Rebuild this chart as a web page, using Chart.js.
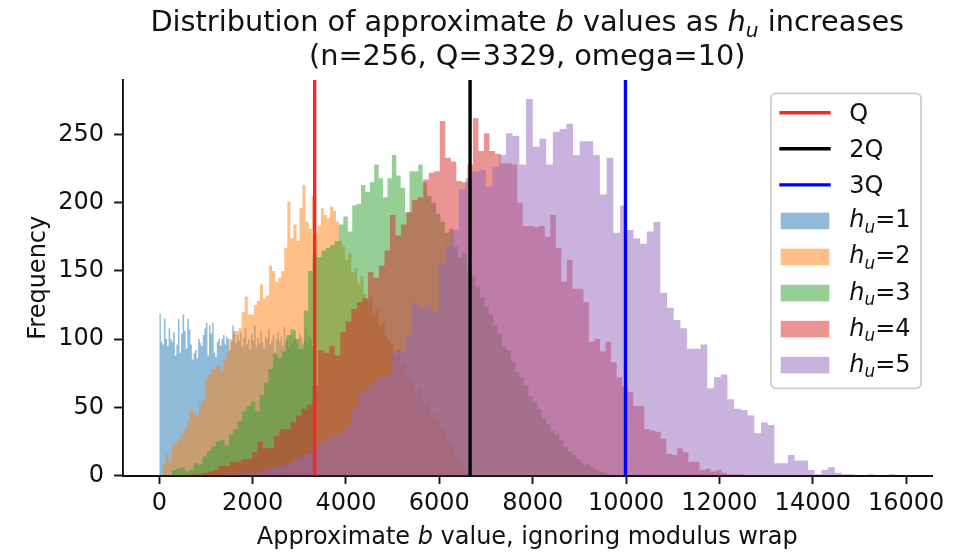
<!DOCTYPE html>
<html>
<head>
<meta charset="utf-8">
<title>Distribution of approximate b values</title>
<script src="https://cdn.jsdelivr.net/npm/chart.js@4.4.1/dist/chart.umd.min.js"></script>
<style>
  html, body { margin: 0; padding: 0; background: #fff; }
  canvas { display: block; }
</style>
</head>
<body>
<canvas id="histChart" width="960" height="553"></canvas>
<script>
const Q = 3329;
const refLines = [Q, 2 * Q, 3 * Q];
const refLabels = ['Q', '2Q', '3Q'];

const huLabels = ['1', '2', '3', '4', '5'];
// first and last bin edge of each histogram, 100 equal bins in between
const binStart = [0, 70, 265, 681, 1386];
const binEnd = [3329, 6590, 9700, 12521, 15766];

const hu1 = [
  119, 98, 96, 115, 100, 95, 108, 100, 98, 105,
  88, 96, 115, 90, 104, 118, 106, 93, 115, 107,
  96, 85, 90, 92, 86, 100, 97, 95, 103, 108,
  112, 88, 110, 104, 112, 90, 87, 98, 100, 95,
  100, 103, 96, 102, 100, 92, 98, 110, 106, 97,
  103, 99, 105, 94, 101, 108, 96, 100, 92, 104,
  99, 110, 95, 101, 97, 106, 98, 93, 102, 100,
  107, 96, 99, 103, 91, 100, 105, 98, 102, 95,
  109, 99, 101, 94, 103, 97, 100, 106, 98, 92,
  104, 101, 96, 99, 108, 97, 103, 100, 95, 102
];
const hu2 = [
  8, 16, 10, 22, 24, 27, 30, 34, 39, 48,
  46, 44, 52, 55, 70, 74, 78, 80, 81, 76,
  85, 90, 100, 104, 106, 108, 120, 131, 118, 118,
  125, 128, 140, 130, 132, 154, 150, 142, 145, 150,
  167, 201, 174, 184, 172, 196, 213, 186, 181, 205,
  178, 183, 196, 191, 189, 197, 194, 186, 172, 168,
  158, 163, 149, 152, 140, 146, 133, 128, 131, 118,
  121, 110, 112, 103, 99, 96, 88, 92, 80, 83,
  76, 71, 68, 62, 65, 56, 52, 55, 44, 46,
  40, 35, 33, 27, 24, 21, 16, 12, 9, 5
];
const hu3 = [
  4, 5, 6, 3, 4, 9, 8, 14, 18, 21,
  25, 26, 22, 30, 34, 40, 47, 51, 54, 47,
  59, 68, 78, 89, 86, 91, 103, 107, 100, 93,
  121, 150, 162, 160, 165, 167, 169, 172, 184, 190,
  179, 198, 199, 213, 208, 215, 228, 218, 204, 218,
  235, 220, 211, 193, 223, 223, 228, 215, 205, 200,
  192, 186, 178, 181, 168, 160, 163, 150, 146, 138,
  131, 124, 118, 110, 104, 95, 92, 84, 76, 72,
  66, 58, 54, 49, 42, 38, 33, 30, 26, 21,
  18, 15, 12, 9, 8, 6, 4, 3, 2, 1
];
const hu4 = [
  1, 1, 2, 3, 4, 7, 7, 10, 10, 12,
  12, 17, 25, 20, 20, 29, 34, 34, 39, 44,
  49, 52, 66, 92, 90, 95, 88, 105, 113, 122,
  127, 130, 149, 145, 154, 165, 191, 176, 184, 193,
  202, 204, 217, 222, 223, 260, 233, 230, 216, 215,
  228, 262, 238, 251, 238, 236, 229, 229, 228, 200,
  183, 183, 182, 183, 175, 191, 167, 142, 158, 137,
  137, 127, 98, 100, 91, 98, 83, 72, 65, 61,
  51, 51, 34, 33, 32, 27, 16, 15, 20, 17,
  10, 10, 4, 5, 3, 4, 2, 1, 1, 1
];
const hu5 = [
  1, 1, 1, 2, 2, 3, 5, 6, 7, 9,
  12, 14, 16, 21, 24, 28, 30, 31, 37, 49,
  61, 66, 69, 72, 74, 91, 91, 103, 127, 123,
  125, 120, 156, 169, 180, 210, 218, 223, 224, 212,
  226, 235, 251, 249, 228, 276, 241, 247, 228, 252,
  254, 258, 235, 245, 245, 235, 206, 233, 178, 198,
  180, 174, 170, 179, 186, 134, 123, 114, 108, 93,
  93, 96, 64, 72, 74, 56, 49, 48, 44, 31,
  39, 37, 9, 9, 15, 11, 11, 4, 1, 4,
  6, 2, 1, 1, 0, 0, 1, 0, 0, 1
];

const xTicks = [0, 2000, 4000, 6000, 8000, 10000, 12000, 14000, 16000];
const yTicks = [0, 50, 100, 150, 200, 250];
const xLimits = [-788, 16554];
const yLimits = [0, 290];

const FONT = '"DejaVu Sans", sans-serif';
const TEXT = '#111';
const lineColors = ['#ee2c26', '#000000', '#0000ff'];
const fillColors = [
  'rgba(31,119,180,0.5)', 'rgba(255,127,14,0.5)', 'rgba(44,160,44,0.5)',
  'rgba(214,39,40,0.5)', 'rgba(148,103,189,0.5)'
];

// turn counts into step points: one per left edge plus the closing right edge
function histPoints(counts, lo, hi) {
  const w = (hi - lo) / counts.length;
  const pts = counts.map((c, i) => ({ x: lo + i * w, y: c }));
  pts.push({ x: hi, y: counts[counts.length - 1] });
  return pts;
}

// text made of plain, italic ('i') and italic subscript ('sub') pieces
function drawRich(ctx, parts, size, x, y, align) {
  const pieces = parts.map(([t, s]) => {
    const fs = s === 'sub' ? size * 0.7 : size;
    const font = (s ? 'italic ' : '') + fs + 'px ' + FONT;
    ctx.font = font;
    return { t, font, w: ctx.measureText(t).width, dy: s === 'sub' ? size * 0.22 : 0 };
  });
  const total = pieces.reduce((a, p) => a + p.w, 0);
  let cx = align === 'center' ? x - total / 2 : x;
  ctx.textAlign = 'left';
  ctx.textBaseline = 'alphabetic';
  pieces.forEach(p => {
    ctx.font = p.font;
    ctx.fillText(p.t, cx, y + p.dy);
    cx += p.w;
  });
}

const huSeries = [hu1, hu2, hu3, hu4, hu5];
const datasets = [];

refLines.forEach((q, k) => {
  datasets.push({
    label: refLabels[k],
    data: [{ x: q, y: yLimits[0] }, { x: q, y: yLimits[1] }],
    borderColor: lineColors[k],
    borderWidth: 3.4,
    pointRadius: 0,
    fill: false,
    order: 0
  });
});

huSeries.forEach((counts, k) => {
  datasets.push({
    label: 'h_u=' + huLabels[k],
    data: histPoints(counts, binStart[k], binEnd[k]),
    stepped: true,
    fill: 'origin',
    backgroundColor: fillColors[k],
    borderColor: 'rgba(0,0,0,0)',
    borderWidth: 0,
    pointRadius: 0,
    order: 5 - k
  });
});

const textPlugin = {
  id: 'textPlugin',
  afterDraw(chart) {
    const { ctx, chartArea } = chart;
    const cx = (chartArea.left + chartArea.right) / 2;
    ctx.save();
    ctx.fillStyle = TEXT;

    drawRich(ctx, [
      ['Distribution of approximate ', ''], ['b', 'i'], [' values as ', ''],
      ['h', 'i'], ['u', 'sub'], [' increases', '']
    ], 28.8, cx, 30.5, 'center');
    drawRich(ctx, [['(n=256, Q=3329, omega=10)', '']], 28.8, cx, 65, 'center');

    drawRich(ctx, [
      ['Approximate ', ''], ['b', 'i'], [' value, ignoring modulus wrap', '']
    ], 24, cx, 544, 'center');

    ctx.save();
    ctx.translate(44.5, (chartArea.top + chartArea.bottom) / 2);
    ctx.rotate(-Math.PI / 2);
    drawRich(ctx, [['Frequency', '']], 24, 0, 0, 'center');
    ctx.restore();

    // legend box
    const bx = chartArea.right - 161, by = chartArea.top + 13.3, bw = 150, bh = 295;
    ctx.beginPath();
    ctx.roundRect(bx, by, bw, bh, 5);
    ctx.fillStyle = 'rgba(255,255,255,0.8)';
    ctx.fill();
    ctx.strokeStyle = '#cccccc';
    ctx.lineWidth = 1.8;
    ctx.stroke();

    const rowGap = 36.07;
    const items = [];
    refLabels.forEach((l, k) => items.push({ kind: 'line', color: lineColors[k], parts: [[l, '']] }));
    huLabels.forEach((l, k) => items.push({
      kind: 'patch', color: fillColors[k], parts: [['h', 'i'], ['u', 'sub'], ['=' + l, '']]
    }));
    items.forEach((it, r) => {
      const ry = by + 19.4 + r * rowGap;
      if (it.kind === 'line') {
        ctx.beginPath();
        ctx.moveTo(bx + 8.3, ry);
        ctx.lineTo(bx + 59.7, ry);
        ctx.strokeStyle = it.color;
        ctx.lineWidth = 3.4;
        ctx.stroke();
      } else {
        ctx.fillStyle = it.color;
        ctx.fillRect(bx + 9.7, ry - 8.3, 48.6, 16.6);
      }
      ctx.fillStyle = TEXT;
      drawRich(ctx, it.parts, 24, bx + 78.3, ry + (it.kind === 'line' ? 8.3 : 6.5), 'left');
    });
    ctx.restore();
  }
};

new Chart(document.getElementById('histChart'), {
  type: 'line',
  data: { datasets },
  plugins: [textPlugin],
  options: {
    responsive: false,
    animation: false,
    events: [],
    layout: { padding: { top: 80, right: 28, left: 0, bottom: 0 } },
    plugins: { legend: { display: false }, tooltip: { enabled: false }, title: { display: false } },
    scales: {
      x: {
        type: 'linear',
        min: xLimits[0],
        max: xLimits[1],
        afterFit(scale) { scale.height = 77.5; },
        afterBuildTicks(scale) { scale.ticks = xTicks.map(v => ({ value: v })); },
        ticks: {
          callback: v => String(v),
          font: { family: FONT, size: 24 },
          color: TEXT,
          padding: 5,
          maxRotation: 0,
          autoSkip: false
        },
        grid: { drawOnChartArea: false, drawTicks: true, tickLength: 8.4, tickWidth: 1.9, tickColor: '#111' },
        border: { display: true, color: '#111', width: 1.9 }
      },
      y: {
        type: 'linear',
        min: yLimits[0],
        max: yLimits[1],
        afterFit(scale) { scale.width = 122.5; },
        afterBuildTicks(scale) { scale.ticks = yTicks.map(v => ({ value: v })); },
        ticks: {
          callback: v => String(v),
          font: { family: FONT, size: 24 },
          color: TEXT,
          padding: 10,
          autoSkip: false
        },
        grid: { drawOnChartArea: false, drawTicks: true, tickLength: 8.4, tickWidth: 1.9, tickColor: '#111' },
        border: { display: true, color: '#111', width: 1.9 }
      }
    }
  }
});
</script>
</body>
</html>
